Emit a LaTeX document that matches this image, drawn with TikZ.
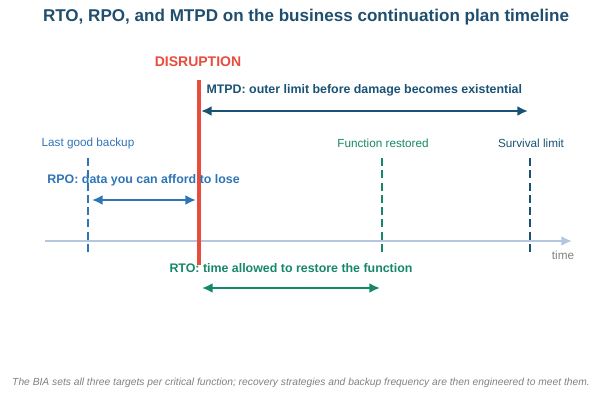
\documentclass[tikz,border=0pt]{standalone}
\usepackage{fontspec}
\setmainfont{Liberation Sans}
\usetikzlibrary{arrows.meta}

\definecolor{titleblue}{RGB}{31,78,111}
\definecolor{mtpdblue}{RGB}{26,82,118}
\definecolor{rpoblue}{RGB}{46,117,182}
\definecolor{rtogreen}{RGB}{22,135,106}
\definecolor{cutred}{RGB}{231,76,60}
\definecolor{axisblue}{RGB}{180,199,223}
\definecolor{notegrey}{RGB}{128,128,128}

\tikzset{every picture/.style={line width=0.75pt}}
\tikzset{
	marker/.style={line width=2.1pt, dash pattern=on 6.1pt off 3.1pt},
	span/.style={line width=2.2pt, {Latex[length=8pt,width=7.5pt]}-{Latex[length=8pt,width=7.5pt]}},
	tag/.style={font=\fontsize{8.8}{10}\selectfont, inner sep=0pt},
	goal/.style={font=\fontsize{9.3}{11}\selectfont\bfseries, inner sep=0pt, anchor=west}
}

\begin{document}
\begin{tikzpicture}[x=0.75pt,y=0.75pt,yscale=-1,xscale=1]
		\useasboundingbox (0,0) rectangle (601,400);

		% title and note
		\draw (306,17) node (title) [color=titleblue, font=\fontsize{12.8}{15}\selectfont\bfseries, inner sep=0pt] {RTO, RPO, and MTPD on the business continuation plan timeline};
		\draw (301,383) node (note) [color=notegrey, font=\fontsize{7.7}{9}\selectfont\itshape, inner sep=0pt] {The BIA sets all three targets per critical function; recovery strategies and backup frequency are then engineered to meet them.};

		% time axis
		\coordinate (axisL) at (45,241);
		\coordinate (axisR) at (572,241);
		\draw [color=axisblue, line width=2.2pt, -{Latex[length=8pt,width=7.5pt]}] (axisL) -- (axisR);
		\draw (563,255) node (time) [color=notegrey, tag] {time};

		% markers
		\coordinate (bkTop) at (88,158);
		\coordinate (bkBot) at (88,252);
		\coordinate (fnTop) at (382,158);
		\coordinate (fnBot) at (382,252);
		\coordinate (svTop) at (530,158);
		\coordinate (svBot) at (530,252);
		\draw [color=rpoblue, marker] (bkTop) -- (bkBot);
		\draw [color=rtogreen, marker] (fnTop) -- (fnBot);
		\draw [color=mtpdblue, marker] (svTop) -- (svBot);
		\draw (88,143) node (backup) [color=rpoblue, tag] {Last good backup};
		\draw (383,143) node (restored) [color=rtogreen, tag] {Function restored};
		\draw (531,143) node (survival) [color=mtpdblue, tag] {Survival limit};

		% disruption
		\coordinate (cutTop) at (199,80);
		\coordinate (cutBot) at (199,265);
		\draw [color=cutred, line width=2.4pt] (cutTop) -- (cutBot);
		\draw (198,62) node (disruption) [color=cutred, font=\fontsize{10.5}{12}\selectfont\bfseries, inner sep=0pt] {DISRUPTION};

		% MTPD
		\draw (206,90) node (mtpd) [color=mtpdblue, goal] {MTPD: outer limit before damage becomes existential};
		\coordinate (mtpdL) at (201,111);
		\coordinate (mtpdR) at (528,111);
		\draw [color=mtpdblue, span] (mtpdL) -- (mtpdR);

		% RPO
		\draw (47,180) node (rpo) [color=rpoblue, goal] {RPO: data you can afford to lose};
		\coordinate (rpoL) at (92,200);
		\coordinate (rpoR) at (196,200);
		\draw [color=rpoblue, span] (rpoL) -- (rpoR);

		% RTO
		\draw (169,268) node (rto) [color=rtogreen, goal] {RTO: time allowed to restore the function};
		\coordinate (rtoL) at (202,288);
		\coordinate (rtoR) at (380,288);
		\draw [color=rtogreen, span] (rtoL) -- (rtoR);

\end{tikzpicture}
\end{document}
